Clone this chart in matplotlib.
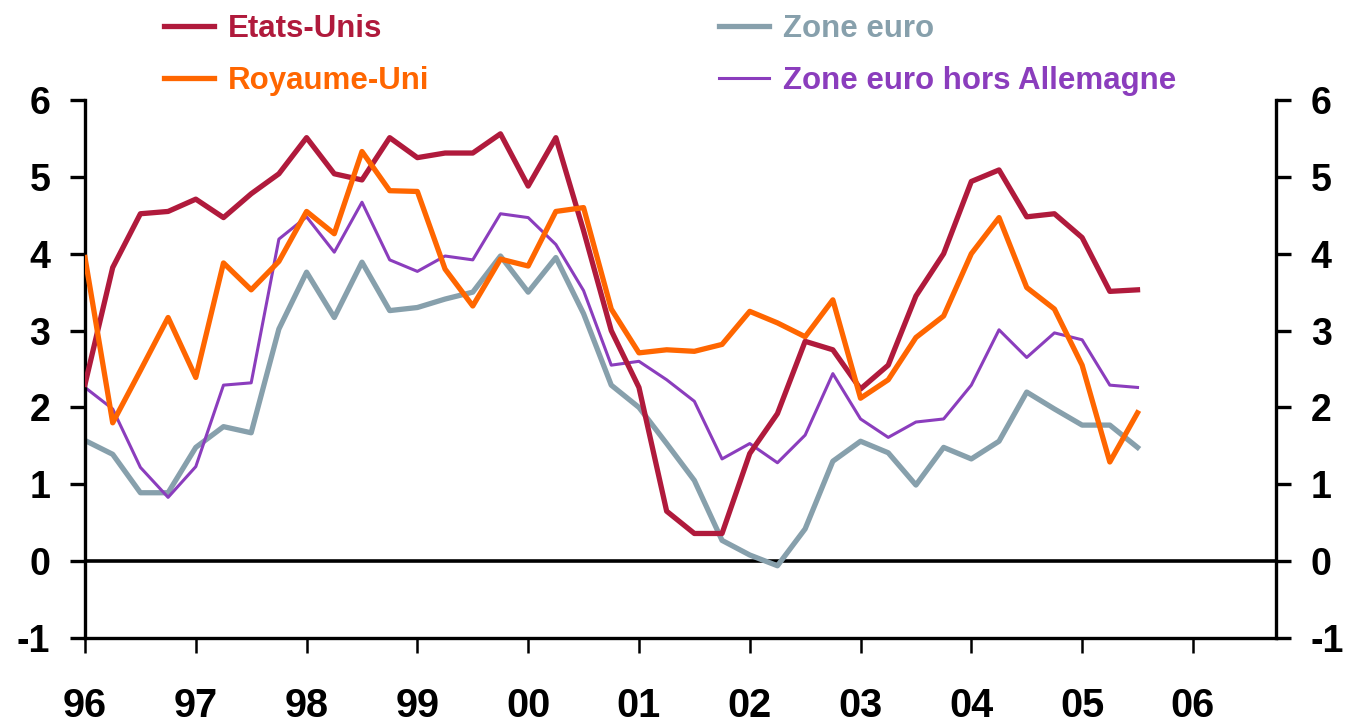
import numpy as np
import matplotlib
matplotlib.use("Agg")
import matplotlib.pyplot as plt

plt.rcParams['font.family'] = ['Liberation Sans', 'DejaVu Sans']
plt.rcParams['axes.unicode_minus'] = False

# quarterly data, 1996 Q1 .. 2005 Q3
etats_unis = [2.30, 3.82, 4.52, 4.55, 4.71, 4.47, 4.78, 5.04, 5.51, 5.04,
              4.96, 5.51, 5.25, 5.31, 5.31, 5.56, 4.88, 5.51, 4.30, 3.00,
              2.26, 0.65, 0.36, 0.36, 1.40, 1.92, 2.86, 2.75, 2.24, 2.55,
              3.45, 4.00, 4.94, 5.09, 4.48, 4.52, 4.21, 3.51, 3.53]
royaume_uni = [3.95, 1.80, 2.48, 3.17, 2.39, 3.88, 3.53, 3.90, 4.55, 4.26,
               5.33, 4.82, 4.81, 3.80, 3.32, 3.93, 3.84, 4.55, 4.60, 3.28,
               2.71, 2.75, 2.73, 2.82, 3.25, 3.10, 2.92, 3.40, 2.12, 2.36,
               2.91, 3.19, 4.00, 4.47, 3.56, 3.28, 2.55, 1.29, 1.93]
zone_euro = [1.57, 1.39, 0.89, 0.89, 1.48, 1.75, 1.67, 3.02, 3.76, 3.17,
             3.89, 3.26, 3.30, 3.41, 3.50, 3.97, 3.50, 3.95, 3.22, 2.29,
             2.00, 1.53, 1.05, 0.27, 0.08, -0.06, 0.42, 1.30, 1.56, 1.41,
             0.99, 1.48, 1.33, 1.56, 2.20, 1.98, 1.77, 1.77, 1.48]
ze_hors_all = [2.26, 1.98, 1.22, 0.83, 1.23, 2.29, 2.32, 4.19, 4.48, 4.02,
               4.67, 3.92, 3.77, 3.97, 3.92, 4.52, 4.47, 4.12, 3.52, 2.55,
               2.60, 2.36, 2.08, 1.33, 1.53, 1.28, 1.64, 2.44, 1.85, 1.61,
               1.81, 1.85, 2.29, 3.01, 2.65, 2.97, 2.88, 2.29, 2.26]

years = np.arange(1996, 2007)
year_labels = ['96', '97', '98', '99', '00', '01', '02', '03', '04', '05', '06']
x = 1996 + np.arange(len(etats_unis)) * 0.25

fig = plt.figure(figsize=(13.45, 7.22), dpi=100)
ax = fig.add_axes([85 / 1345, 84 / 722, 1191 / 1345, 538 / 722])

ax.axhline(0, color='black', lw=2.6, zorder=1)
ax.plot(x, etats_unis, color='#B01A3C', lw=3.8, label='Etats-Unis', zorder=3)
ax.plot(x, royaume_uni, color='#FF6600', lw=3.8, label='Royaume-Uni', zorder=4)
ax.plot(x, zone_euro, color='#87A0AC', lw=3.8, label='Zone euro', zorder=2)
ax.plot(x, ze_hors_all, color='#8B3DBD', lw=2.2, label='Zone euro hors Allemagne', zorder=2)

ax.set_xlim(1996, 2006.75)
ax.set_ylim(-1, 6)
ax.set_xticks(years)
ax.set_xticklabels(year_labels)
ax.set_yticks(range(-1, 7))

ax.spines['top'].set_visible(False)
for s in ['left', 'right', 'bottom']:
    ax.spines[s].set_linewidth(2.4)

ax.tick_params(axis='y', direction='out', length=11, width=2.4, pad=14,
               labelsize=27, right=True, labelright=True)
ax.tick_params(axis='x', direction='out', length=11, width=1.8, pad=24,
               labelsize=28.5)
for lab in ax.get_xticklabels() + ax.get_yticklabels():
    lab.set_fontweight('bold')

leg = ax.legend(ncol=2, loc='upper left', bbox_to_anchor=(148 / 1345, 1.0 + 2 / 722),
                bbox_transform=fig.transFigure, frameon=False,
                prop={'size': 22.5, 'weight': 'bold'}, labelcolor='linecolor',
                handlelength=1.62, handletextpad=0.45, columnspacing=9.24,
                labelspacing=0.72, borderpad=0.0)

fig.savefig('out.png', dpi=100)
